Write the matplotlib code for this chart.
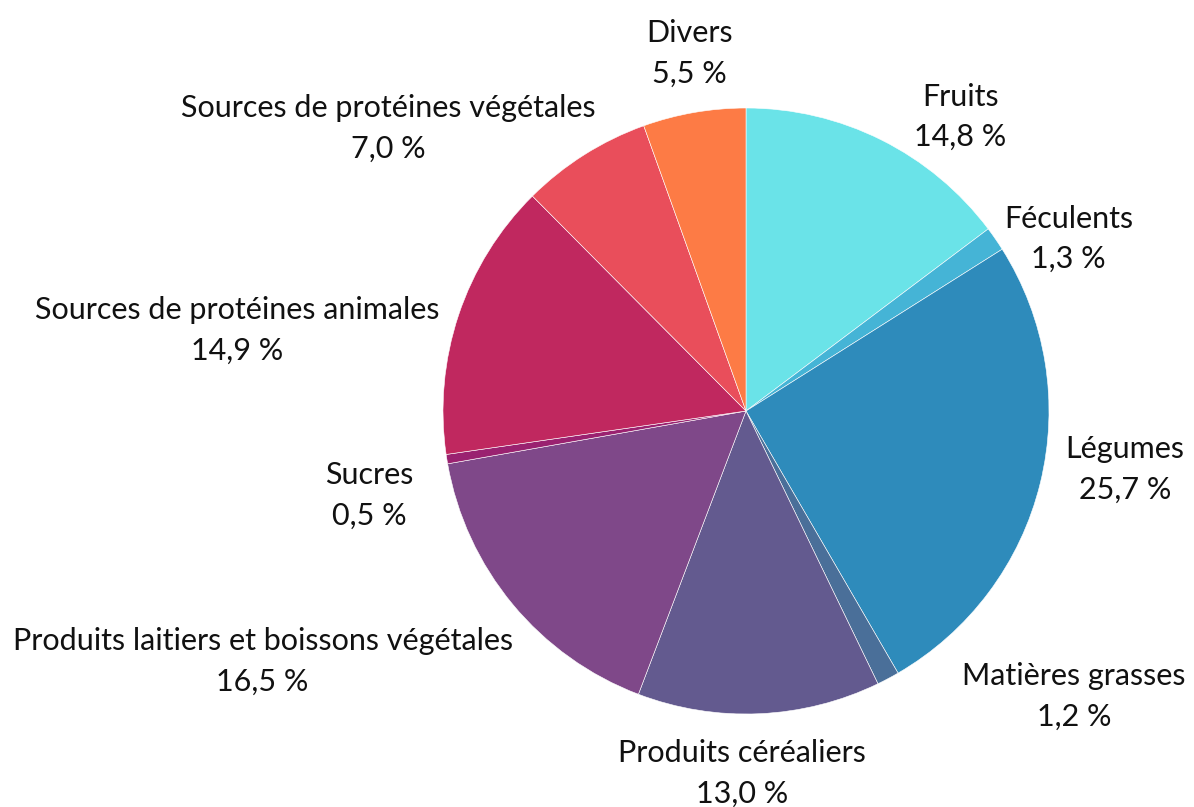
import numpy as np
import matplotlib
matplotlib.use("Agg")
import matplotlib.pyplot as plt

categories = ["Fruits", "Féculents", "Légumes", "Matières grasses", "Produits céréaliers",
              "Produits laitiers et boissons végétales", "Sucres", "Sources de protéines animales",
              "Sources de protéines végétales", "Divers"]
values = [14.8, 1.3, 25.7, 1.2, 13.0, 16.5, 0.5, 14.9, 7.0, 5.5]
value_labels = ["14,8 %", "1,3 %", "25,7 %", "1,2 %", "13,0 %", "16,5 %", "0,5 %", "14,9 %", "7,0 %", "5,5 %"]
colors = ["#6ae3e8", "#45b4d6", "#2e8bbb", "#4a6f99", "#635a8f", "#7f4889",
          "#9a2270", "#c0285f", "#e94e5b", "#fd7b45"]

# layout: label centre offsets (pixels) from the wedge's outer mid-point
label_offsets_px = [(79, 23), (73, 0), (85, 14), (186, -18), (-17, -60),
                    (-250, -57), (-78, -36), (-221, -15), (-196, 26), (-5, 59)]

plt.rcParams['font.family'] = ['Lato', 'DejaVu Sans']

W, H = 1194, 807
cx, cy, R = 746, 411, 303
fig = plt.figure(figsize=(W / 100, H / 100), dpi=100)
ax = fig.add_axes([0, 0, 1, 1])

wedges, _ = ax.pie(values, colors=colors, startangle=90, counterclock=False, radius=1.0,
                   wedgeprops=dict(edgecolor='white', linewidth=0.4))
ax.set_aspect('auto')
ax.set_xlim(-cx / R, (W - cx) / R)
ax.set_ylim(-(H - cy) / R, cy / R)
ax.axis('off')

for w, lab, vl, off in zip(wedges, categories, value_labels, label_offsets_px):
    ang = np.deg2rad((w.theta1 + w.theta2) / 2)
    x, y = np.cos(ang), np.sin(ang)
    ax.annotate(f"{lab}\n{vl}", xy=(x, y), xytext=off, textcoords='offset pixels',
                ha='center', va='center', multialignment='center',
                fontsize=22, color='#111111', linespacing=1.55)

fig.savefig("out.png", dpi=100)
